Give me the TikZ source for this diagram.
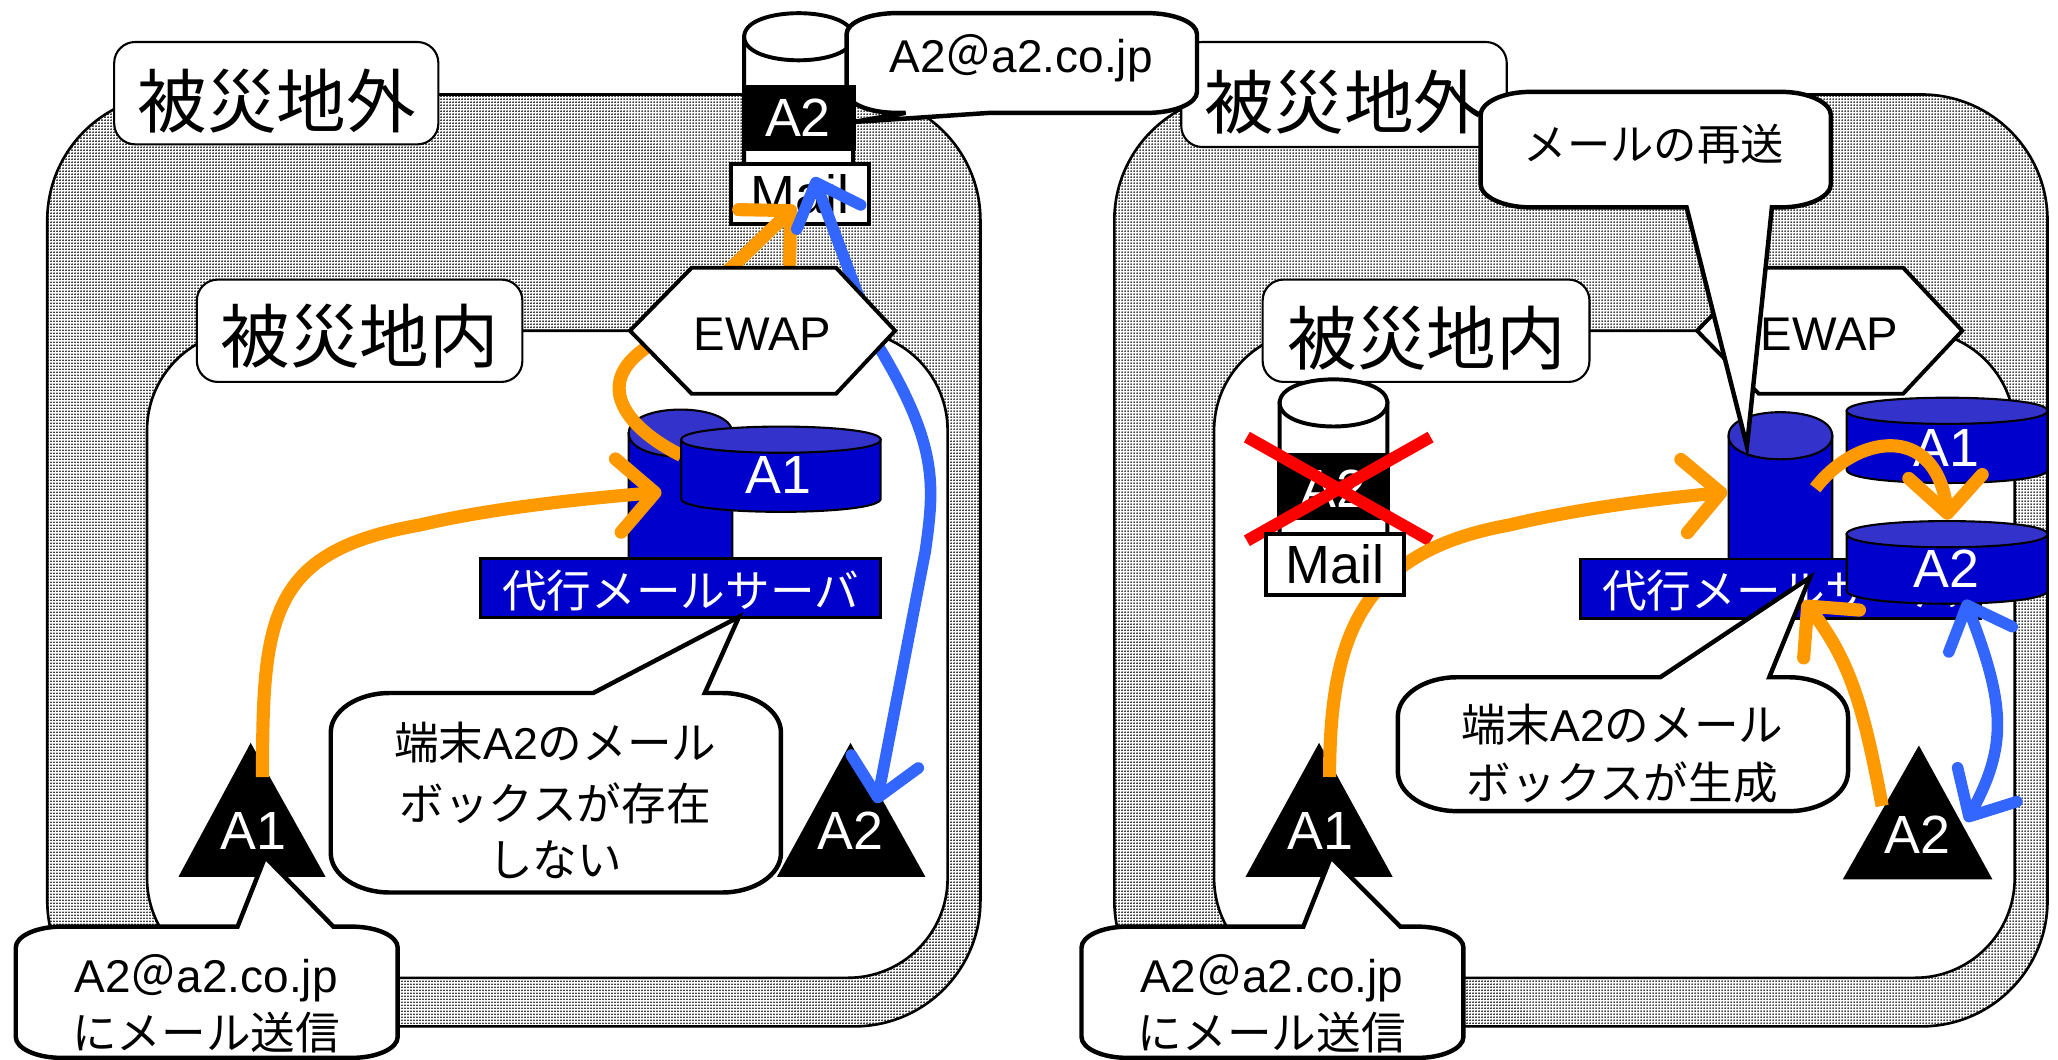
\documentclass[tikz,border=0pt]{standalone}
\usepackage{fontspec}
\setmainfont{Liberation Sans}
\newfontfamily\cjk{Noto Sans CJK JP}
\usetikzlibrary{arrows.meta,bending,patterns}
\pgfdeclarepatternformonly{finedots}{\pgfqpoint{-0.5714pt}{-0.5714pt}}{\pgfqpoint{0.5714pt}{0.5714pt}}{\pgfqpoint{1.1429pt}{1.1429pt}}{%
  \pgfpathcircle{\pgfqpoint{0pt}{0pt}}{0.34pt}\pgfusepath{fill}}
\definecolor{mblue}{HTML}{0000CC}
\definecolor{mtop}{HTML}{3333CC}
\definecolor{morange}{HTML}{FF9900}
\definecolor{mline}{HTML}{3366FF}
\tikzset{
  x=0.5pt,y=-0.5pt,
  outerband/.style={draw=black,line width=1pt,rounded corners=48pt,fill=white,postaction={pattern=finedots,pattern color=black}},
  innerarea/.style={draw=black,line width=1pt,rounded corners=38pt,fill=white},
  areabox/.style={draw=black,line width=0.8pt,rounded corners=8pt,fill=white},
  arealabel/.style={font=\cjk\fontsize{26.5}{30}\selectfont,inner sep=0pt},
  calloutshape/.style={draw=black,line width=1.7pt,fill=white,line join=miter},
  ctext/.style={font=\fontsize{17}{20}\selectfont,inner sep=0pt,align=center},
  whitetext/.style={text=white,font=\fontsize{20.5}{24}\selectfont,inner sep=0pt},
  blacktext/.style={text=black,font=\fontsize{20.5}{24}\selectfont,inner sep=0pt},
  ewaptext/.style={text=black,font=\fontsize{18}{20}\selectfont,inner sep=0pt},
  bartext/.style={text=white,font=\cjk\fontsize{17}{20}\selectfont,inner sep=0pt},
  barbox/.style={draw=black,line width=1pt,fill=mblue},
  mailbox/.style={draw=black,line width=1.5pt,fill=white},
  hexshape/.style={draw=black,line width=1.5pt,fill=white,line join=miter},
  cylwhite/.style={draw=black,line width=1.5pt,fill=white},
  cylblue/.style={draw=black,line width=0.8pt,fill=mblue},
  orangearrow/.style={draw=morange,line width=5pt,-{Straight Barb[length=14pt,width=28pt,round]}},
  bluearrow/.style={draw=mline,line width=4.4pt,{Straight Barb[length=14pt,width=26pt,round]}-{Straight Barb[length=14pt,width=26pt,round]}},
  redcross/.style={draw=red,line width=4.6pt},
  terminal/.style={fill=black},
}
% left, right, center y, ry, bottom y, top fill, style
\newcommand\cylinder[7]{%
  \path[#7] (#1,#3) -- (#2,#3) -- (#2,#5) .. controls (#2,{#5+1.33*#4}) and (#1,{#5+1.33*#4}) .. (#1,#5) -- cycle;
  \path[#7,fill=#6] (#1,#3) .. controls (#1,{#3-1.33*#4}) and (#2,{#3-1.33*#4}) .. (#2,#3)
     .. controls (#2,{#3+1.33*#4}) and (#1,{#3+1.33*#4}) .. (#1,#3) -- cycle;}
% l t r b rx ry tailleft tailright tipname : tail on top edge
\newcommand\calloutTop[9]{%
  \path[calloutshape] ({#1+#5},#2) -- (#7,#2) -- (#9) -- (#8,#2) -- ({#3-#5},#2)
   .. controls ({#3-.45*#5},#2) and (#3,{#2+.45*#6}) .. (#3,{#2+#6}) -- (#3,{#4-#6})
   .. controls (#3,{#4-.45*#6}) and ({#3-.45*#5},#4) .. ({#3-#5},#4) -- ({#1+#5},#4)
   .. controls ({#1+.45*#5},#4) and (#1,{#4-.45*#6}) .. (#1,{#4-#6}) -- (#1,{#2+#6})
   .. controls (#1,{#2+.45*#6}) and ({#1+.45*#5},#2) .. ({#1+#5},#2) -- cycle;}
% same, tail on bottom edge
\newcommand\calloutBot[9]{%
  \path[calloutshape] ({#1+#5},#2) -- ({#3-#5},#2)
   .. controls ({#3-.45*#5},#2) and (#3,{#2+.45*#6}) .. (#3,{#2+#6}) -- (#3,{#4-#6})
   .. controls (#3,{#4-.45*#6}) and ({#3-.45*#5},#4) .. ({#3-#5},#4) -- (#8,#4) -- (#9) -- (#7,#4) -- ({#1+#5},#4)
   .. controls ({#1+.45*#5},#4) and (#1,{#4-.45*#6}) .. (#1,{#4-#6}) -- (#1,{#2+#6})
   .. controls (#1,{#2+.45*#6}) and ({#1+.45*#5},#2) .. ({#1+#5},#2) -- cycle;}
\begin{document}
\begin{tikzpicture}
\useasboundingbox (0,0) rectangle (1568,807);
\path[fill=white] (0,0) rectangle (1568,807);

% ===== RIGHT PANEL =====
\path[outerband] (849,72) rectangle (1560,782);
\path[innerarea] (925,252) rectangle (1535,745);
\path[areabox] (900,32) rectangle (1148,112);
\node[arealabel] (rout) at (1024,78) {被災地外};
\path[areabox] (962,213) rectangle (1211,291);
\node[arealabel] (rin) at (1087,258) {被災地内};

\path[hexshape] (1293,252) -- (1340,204) -- (1450,204) -- (1495,252) -- (1450,300) -- (1340,300) -- cycle;
\node[ewaptext] (rewap) at (1394,255) {EWAP};

% crossed mail server
\cylinder{975}{1057}{307}{18}{410}{white}{cylwhite}
\path[fill=black] (973,345) rectangle (1059,396);
\node[whitetext] (ra2) at (1016,372) {A2};
\coordinate (xa) at (950,333); \coordinate (xb) at (1090,412);
\coordinate (xc) at (1090,333); \coordinate (xd) at (950,412);
\draw[redcross] (xa) -- (xb);
\draw[redcross] (xc) -- (xd);

% proxy server
\cylinder{1317}{1396}{332}{18}{430}{mtop}{cylblue}
\node[barbox,minimum width=152.5pt,minimum height=22.5pt,inner sep=0pt] (rbar) at (1356.5,448.5) {};
\node[bartext] (rbart) at (1356.5,450) {代行メールサーバ};
\cylinder{1407}{1560}{313}{10}{358}{mtop}{cylblue}
\node[whitetext] (rd1) at (1483,341) {A1};
\cylinder{1407}{1560}{407}{10}{450}{mtop}{cylblue}
\node[whitetext] (rd2) at (1483,433) {A2};

% terminals
\path[terminal] (1005,566) -- (949,668) -- (1061,668) -- cycle;
\node[whitetext] (rt1) at (1006,633) {A1};
\path[terminal] (1462,568) -- (1404,670) -- (1518,670) -- cycle;
\node[whitetext] (rt2) at (1461,636) {A2};

% mail arrow passes behind the mail box
\coordinate (r1s) at (1013,592);
\coordinate (r1e) at (1316,375);
\draw[orangearrow] (r1s) .. controls (1013,480) and (1040,420) .. (1150,400) .. controls (1200,388) and (1260,380) .. (r1e);
\node[mailbox,minimum width=52.5pt,minimum height=23pt,inner sep=0pt] (rmail) at (1017,430) {};
\node[blacktext] (rmailt) at (rmail) {Mail};

\coordinate (r2s) at (1383,372);
\coordinate (r2e) at (1484,396);
\draw[orangearrow] (r2s) .. controls (1415,330) and (1480,320) .. (r2e);
\coordinate (r3s) at (1434,614);
\coordinate (r3e) at (1374,458);
\coordinate (r4s) at (1497,457);
\coordinate (r4e) at (1498,626);
\draw[bluearrow] (r4s) .. controls (1530,540) and (1530,570) .. (r4e);

\coordinate (rtip1) at (1379,440);
\calloutTop{1065}{516}{1408}{618}{45}{30}{1265}{1348}{rtip1}
\node[ctext,font=\cjk\fontsize{17}{20}\selectfont] (rc1) at (1236,552) {端末{\fontspec{Liberation Sans}A2}のメール};
\node[ctext,font=\cjk\fontsize{17}{20}\selectfont] (rc2) at (1236,596) {ボックスが生成};
\draw[orangearrow] (r3s) .. controls (1420,540) and (1410,500) .. (r3e);

\coordinate (rtip2) at (1331,340);
\calloutBot{1128}{70}{1395}{158}{38}{18}{1285}{1350}{rtip2}
\node[ctext,font=\cjk\fontsize{16.5}{20}\selectfont] (rc3) at (1260,110) {メールの再送};

\coordinate (rtip3) at (1014,653);
\calloutTop{824}{706}{1115}{806}{35}{16}{993}{1067}{rtip3}
\node[ctext,font=\fontsize{17.5}{20}\selectfont] (rc4) at (969,745) {A2{\cjk ＠}a2.co.jp};
\node[ctext,font=\cjk\fontsize{17}{20}\selectfont] (rc5) at (969,787) {にメール送信};

% ===== LEFT PANEL =====
\path[outerband] (36,72) rectangle (747,782);
\path[innerarea] (112,252) rectangle (722,745);
\path[areabox] (87,32) rectangle (334,110);
\node[arealabel] (lout) at (211,77) {被災地外};
\path[areabox] (150,213) rectangle (398,291);
\node[arealabel] (lin) at (274,256) {被災地内};

% mail server
\cylinder{567}{650}{28}{18}{130}{white}{cylwhite}
\coordinate (ltip2) at (650,93);
\calloutBot{645}{10}{912}{86}{38}{16}{690}{754}{ltip2}
\node[ctext,font=\fontsize{17.5}{20}\selectfont] (lc3) at (778,44) {A2{\cjk ＠}a2.co.jp};
\path[fill=black] (565,65) rectangle (652,115);
\node[whitetext] (la2) at (608,90) {A2};
\node[mailbox,minimum width=52.5pt,minimum height=23pt,inner sep=0pt] (lmail) at (609.5,148) {};
\node[blacktext] (lmailt) at (lmail) {Mail};

% proxy server
\cylinder{479}{558}{330}{18}{430}{mtop}{cylblue}
\node[barbox,minimum width=152.5pt,minimum height=22.5pt,inner sep=0pt] (lbar) at (518.5,448) {};
\node[bartext] (lbart) at (518.5,450) {代行メールサーバ};

% arrows
\coordinate (l1s) at (200,592);
\coordinate (l1e) at (504,375);
\coordinate (l2s) at (519,347);
\coordinate (l2e) at (606,157);
\coordinate (l3s) at (620,135);
\coordinate (l3e) at (668,612);

\path[terminal] (191,566) -- (136,668) -- (248,668) -- cycle;
\node[whitetext] (lt1) at (193,633) {A1};
\path[terminal] (648,566) -- (592,668) -- (705,668) -- cycle;
\node[whitetext] (lt2) at (648,633) {A2};

\draw[orangearrow] (l1s) .. controls (200,470) and (205,420) .. (320,400) .. controls (370,388) and (440,380) .. (l1e);
\draw[orangearrow] (l2s) .. controls (475,325) and (450,290) .. (497,262) -- (l2e);
\cylinder{519}{671}{335}{10}{380}{mtop}{cylblue}
\node[whitetext] (ld1) at (593,362) {A1};
\draw[bluearrow] (l3s) -- (652,220) -- (670,265) .. controls (715,340) and (712,370) .. (705,420) -- (l3e);

\path[hexshape] (480,252) -- (527,204) -- (637,204) -- (682,252) -- (637,300) -- (527,300) -- cycle;
\node[ewaptext] (lewap) at (581,255) {EWAP};

\coordinate (ltip1) at (563,470);
\calloutTop{252}{528}{595}{680}{45}{30}{452}{537}{ltip1}
\node[ctext,font=\cjk\fontsize{17}{20}\selectfont] (lc1) at (423,566) {端末{\fontspec{Liberation Sans}A2}のメール};
\node[ctext,font=\cjk\fontsize{17}{20}\selectfont] (lc2) at (423,612) {ボックスが存在};
\node[ctext,font=\cjk\fontsize{17}{20}\selectfont] (lc4) at (423,655) {しない};

\coordinate (ltip3) at (202,653);
\calloutTop{12}{706}{303}{806}{35}{16}{181}{254}{ltip3}
\node[ctext,font=\fontsize{17.5}{20}\selectfont] (lc5) at (157,745) {A2{\cjk ＠}a2.co.jp};
\node[ctext,font=\cjk\fontsize{17}{20}\selectfont] (lc6) at (157,787) {にメール送信};
\end{tikzpicture}
\end{document}
